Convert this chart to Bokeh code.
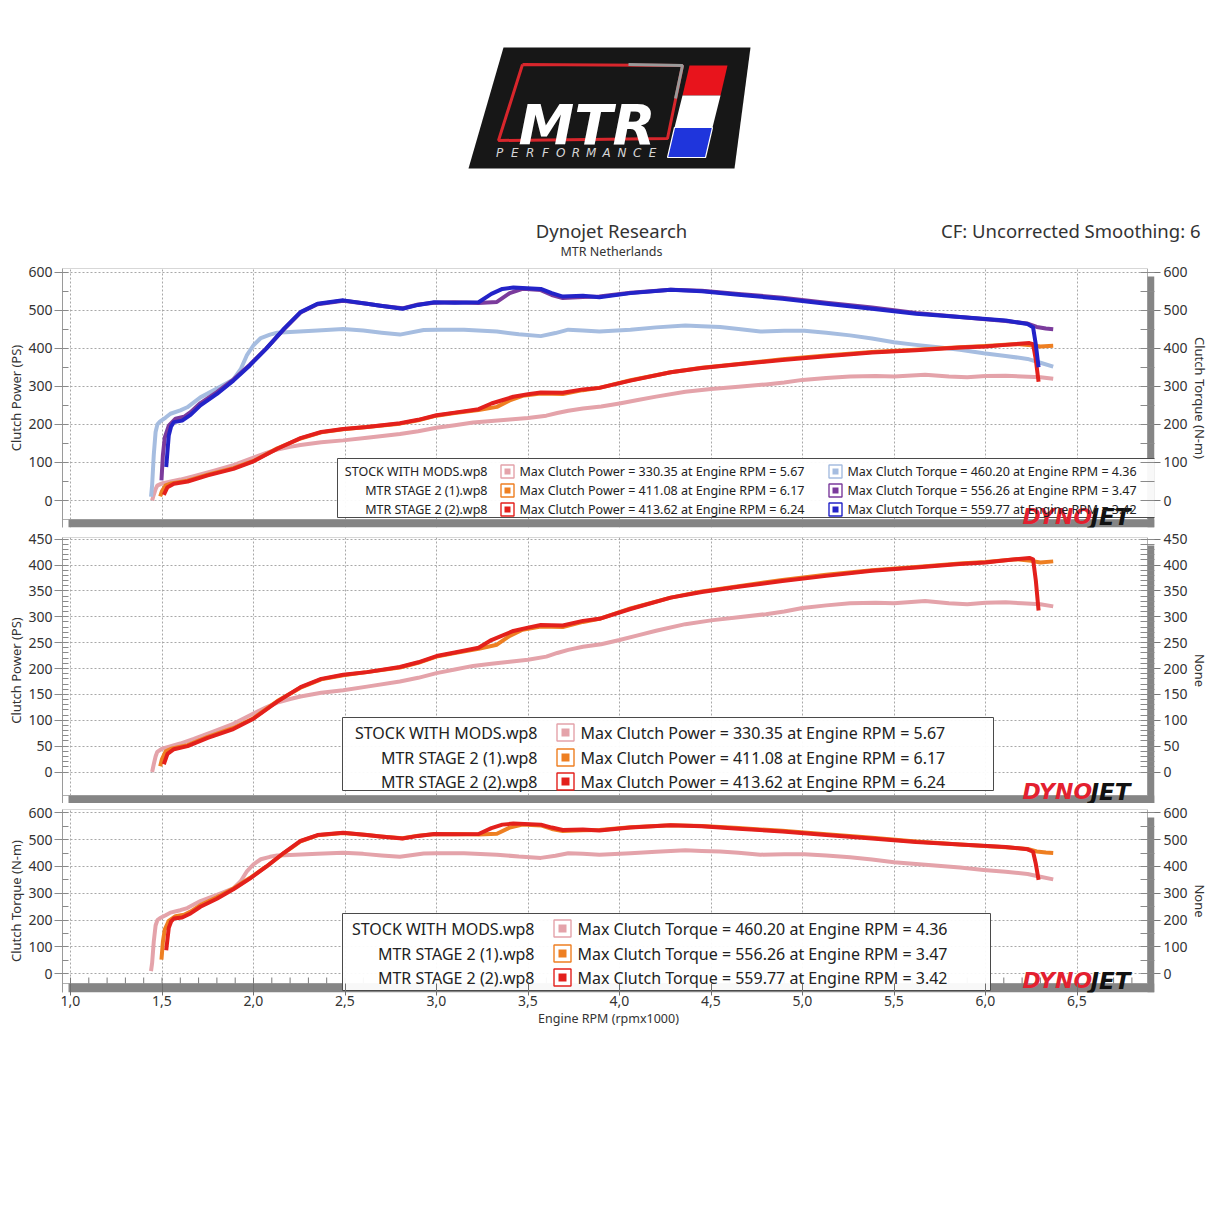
from bokeh.plotting import figure
from bokeh.layouts import column
from bokeh.models import Range1d, LinearAxis, FixedTicker, CustomJSTickFormatter, Grid
from bokeh.core.properties import value
from bokeh.embed import file_html
from bokeh.resources import INLINE

# ------------------------------------------------------------------ data
run_names = ["STOCK WITH MODS.wp8", "MTR STAGE 2 (1).wp8", "MTR STAGE 2 (2).wp8"]
max_power = ["330.35", "411.08", "413.62"]
max_power_rpm = ["5.67", "6.17", "6.24"]
max_torque = ["460.20", "556.26", "559.77"]
max_torque_rpm = ["4.36", "3.47", "3.42"]

x_ticks = [1.0, 1.5, 2.0, 2.5, 3.0, 3.5, 4.0, 4.5, 5.0, 5.5, 6.0, 6.5]

rpm_stock_power = [1.446, 1.455, 1.465, 1.474, 1.50, 1.53, 1.60, 1.674, 1.78, 1.89,
                   2.00, 2.07, 2.13, 2.20, 2.257, 2.37, 2.49, 2.62, 2.80, 2.90,
                   3.00, 3.10, 3.20, 3.30, 3.40, 3.50, 3.60, 3.66, 3.72, 3.80,
                   3.90, 4.00, 4.10, 4.20, 4.36, 4.50, 4.65, 4.80, 4.90, 5.00,
                   5.13, 5.26, 5.40, 5.50, 5.67, 5.80, 5.90, 6.00, 6.11, 6.20,
                   6.30, 6.37]
stock_power = [0, 15, 30, 39, 45, 48, 55, 64, 78, 93,
               113, 125, 134, 141, 146, 153, 158, 165, 175, 182,
               191, 198, 205, 209, 213, 217, 223, 230, 236, 242,
               247, 255, 264, 273, 285.7, 293, 299, 305, 310, 317,
               322, 326, 327, 326, 330.35, 326, 324, 327, 328, 326,
               324, 320]

rpm_mtr1_power = [1.49, 1.50, 1.52, 1.55, 1.64, 1.75, 1.89, 2.00, 2.13, 2.257,
                  2.37, 2.49, 2.62, 2.80, 2.90, 3.00, 3.10, 3.23, 3.33, 3.40,
                  3.47, 3.57, 3.69, 3.80, 3.89, 4.06, 4.28, 4.45, 4.65, 4.89,
                  5.13, 5.38, 5.62, 5.86, 6.00, 6.17, 6.25, 6.30, 6.37]
mtr1_power = [11, 25, 40, 45, 52, 68, 85, 104, 137, 163,
              179, 187, 193, 202, 211, 223, 230, 238, 246, 263,
              275, 281, 280, 290, 296, 316, 337, 349, 359, 371,
              381, 390, 396, 403, 406, 411.08, 408, 405, 407]

rpm_mtr2_power = [1.51, 1.53, 1.565, 1.64, 1.75, 1.89, 2.00, 2.13, 2.257, 2.37,
                  2.49, 2.62, 2.80, 2.90, 3.00, 3.10, 3.23, 3.30, 3.42, 3.50,
                  3.57, 3.69, 3.80, 3.89, 4.06, 4.28, 4.45, 4.65, 4.89, 5.13,
                  5.38, 5.62, 5.86, 6.00, 6.11, 6.24, 6.26, 6.275, 6.29]
mtr2_power = [15, 35, 44, 50, 66, 83, 103, 136, 164, 180,
              188, 193, 203, 212, 224, 231, 240, 255, 272.6, 279,
              284, 283, 292, 296, 315, 337, 348, 358, 369, 379,
              389, 395, 402, 405, 409, 413.62, 411, 370, 312]

rpm_stock_torque = [1.44, 1.446, 1.455, 1.465, 1.475, 1.49, 1.52, 1.546, 1.60, 1.638,
                    1.71, 1.80, 1.89, 1.93, 1.965, 2.00, 2.04, 2.09, 2.13, 2.20,
                    2.35, 2.49, 2.60, 2.70, 2.80, 2.93, 3.00, 3.15, 3.33, 3.45,
                    3.57, 3.65, 3.72, 3.80, 3.89, 4.06, 4.20, 4.36, 4.45, 4.55,
                    4.65, 4.77, 4.90, 5.01, 5.13, 5.26, 5.38, 5.50, 5.62, 5.74,
                    5.86, 5.99, 6.11, 6.23, 6.30, 6.37]
stock_torque = [10, 40, 120, 180, 200, 208, 218, 228, 237, 245,
                271, 294, 318, 345, 383, 408, 427, 436, 441, 443,
                447, 451, 447, 441, 436, 448, 449, 449, 444, 437,
                432, 440, 449, 447, 444, 449, 455, 460.2, 458, 456,
                451, 444, 446, 446, 441, 434, 426, 416, 409, 403,
                396, 387, 380, 372, 362, 352]

rpm_mtr1_torque = [1.497, 1.505, 1.515, 1.537, 1.574, 1.62, 1.656, 1.71, 1.80, 1.89,
                   1.98, 2.07, 2.166, 2.257, 2.35, 2.49, 2.62, 2.694, 2.814, 2.90,
                   2.987, 3.10, 3.23, 3.33, 3.40, 3.47, 3.57, 3.63, 3.69, 3.80,
                   3.89, 4.06, 4.28, 4.45, 4.65, 4.89, 5.13, 5.38, 5.62, 5.86,
                   6.11, 6.23, 6.28, 6.33, 6.37]
mtr1_torque = [53, 120, 165, 197, 215, 220, 232, 256, 285, 318,
               357, 400, 450, 494, 516, 525, 517, 512, 505, 515,
               520, 521, 519, 522, 545, 556.26, 553, 540, 532, 535,
               536, 546, 554, 551, 543, 533, 520, 507, 493, 482,
               472, 465, 456, 452, 450]

rpm_mtr2_torque = [1.523, 1.53, 1.537, 1.55, 1.565, 1.61, 1.656, 1.71, 1.80, 1.89,
                   1.98, 2.07, 2.166, 2.257, 2.35, 2.49, 2.62, 2.694, 2.814, 2.90,
                   2.987, 3.10, 3.23, 3.30, 3.36, 3.42, 3.57, 3.63, 3.69, 3.80,
                   3.89, 4.06, 4.28, 4.45, 4.65, 4.89, 5.13, 5.38, 5.62, 5.86,
                   6.11, 6.23, 6.26, 6.275, 6.29]
mtr2_torque = [88, 130, 171, 195, 206, 210, 225, 250, 280, 315,
               355, 399, 451, 495, 517, 526, 517, 512, 504, 514,
               521, 520, 521, 543, 556, 559.77, 556, 545, 536, 538,
               534, 545, 554, 550, 541, 530, 517, 504, 491, 482,
               473, 464, 455, 410, 350]

power_colors = ["#e4a3aa", "#ee7f22", "#e3201c"]
torque_colors_top = ["#a6bde0", "#7b3b9c", "#2323c8"]

FONT = "Noto Sans"
TXT = "#333333"

# ------------------------------------------------------------------ layout helpers (page pixels)
PAGE_W = 1221
FRAME_L, FRAME_R, BAR_R = 62, 1147, 1154


def rx(px):
    return 1.0 + (px - 70.0) / 183.0


PANELS = {
    "top": dict(zero=500.0, ppu=0.3805, top=268, bottom=519, bar=527, fig_top=262, fig_bottom=528),
    "mid": dict(zero=771.5, ppu=0.5175, top=537, bottom=795, bar=803, fig_top=528, fig_bottom=803),
    "bot": dict(zero=973.3, ppu=0.2683, top=809, bottom=983, bar=992, fig_top=803, fig_bottom=1050),
}


def vy(P, py):
    return (P["zero"] - py) / P["ppu"]


x_minor = [round(1.0 + 0.1 * i, 2) for i in range(0, 60)]
xt = FixedTicker(ticks=x_ticks, minor_ticks=x_minor)


def make_panel(P, ymax, ystep, yminor, left_label, right_label, x_axis):
    p = figure(width=PAGE_W, height=P["fig_bottom"] - P["fig_top"],
               x_range=Range1d(rx(FRAME_L), rx(BAR_R)),
               y_range=Range1d(vy(P, P["bar"]), vy(P, P["top"])),
               x_axis_type=None, y_axis_type=None,
               toolbar_location=None, output_backend="svg",
               min_border_left=FRAME_L, min_border_right=PAGE_W - BAR_R,
               min_border_top=P["top"] - P["fig_top"],
               min_border_bottom=P["fig_bottom"] - P["bar"],
               outline_line_color=None)
    yt = FixedTicker(ticks=list(range(0, ymax + 1, ystep)),
                     minor_ticks=list(range(0, ymax + 1, yminor)))
    p.add_layout(Grid(dimension=0, ticker=xt, grid_line_color="#a8a8a8",
                      grid_line_dash="2 2", grid_line_width=1))
    p.add_layout(Grid(dimension=1, ticker=yt, grid_line_color="#a8a8a8",
                      grid_line_dash="2 2", grid_line_width=1))
    la = LinearAxis(ticker=yt, axis_label=left_label,
                    axis_line_color="#9a9a9a",
                    major_tick_line_color="#8a8a8a", minor_tick_line_color="#8a8a8a",
                    major_tick_out=8, major_tick_in=0, minor_tick_out=0, minor_tick_in=6,
                    major_label_text_font=FONT, major_label_text_font_size="14px",
                    major_label_text_color=TXT, major_label_standoff=2,
                    axis_label_text_font=FONT, axis_label_text_font_size="13px",
                    axis_label_text_font_style="normal", axis_label_text_color=TXT,
                    axis_label_standoff=0)
    p.add_layout(la, "left")
    ra = LinearAxis(ticker=yt, axis_label=right_label,
                    axis_line_color=None,
                    major_tick_line_color="#777777", minor_tick_line_color="#8a8a8a",
                    major_tick_out=6, major_tick_in=7, minor_tick_out=0, minor_tick_in=14,
                    major_label_text_font=FONT, major_label_text_font_size="14px",
                    major_label_text_color=TXT, major_label_standoff=3,
                    axis_label_text_font=FONT, axis_label_text_font_size="13px",
                    axis_label_text_font_style="normal", axis_label_text_color=TXT,
                    axis_label_standoff=0)
    p.add_layout(ra, "right")
    # frame and drop-shadow bars
    p.quad(left=[rx(FRAME_L)], right=[rx(FRAME_R)], top=[vy(P, P["top"])],
           bottom=[vy(P, P["bottom"])], fill_color=None, line_color="#b0b0b0", line_width=1)
    if x_axis:
        ba = LinearAxis(ticker=xt, axis_label="Engine RPM (rpmx1000)",
                        formatter=CustomJSTickFormatter(code="return tick.toFixed(1).replace('.', ',');"),
                        axis_line_color=None,
                        major_tick_line_color="#6f6f6f", minor_tick_line_color=None,
                        major_tick_in=9, major_tick_out=3, minor_tick_in=0, minor_tick_out=0,
                        major_label_text_font=FONT, major_label_text_font_size="14px",
                        major_label_text_color=TXT, major_label_standoff=0,
                        axis_label_text_font=FONT, axis_label_text_font_size="12.5px",
                        axis_label_text_font_style="normal", axis_label_text_color=TXT,
                        axis_label_standoff=1)
        p.add_layout(ba, "below")
        # small tick marks poking up from the shadow bar (hidden under the legend box)
        p.segment(x0=x_minor, x1=x_minor, y0=[vy(P, P["bottom"])] * len(x_minor),
                  y1=[vy(P, P["bottom"] - 6)] * len(x_minor), line_color="#7a7a7a", line_width=1)
    p.quad(left=[rx(68)], right=[rx(BAR_R)], top=[vy(P, P["bottom"])],
           bottom=[vy(P, P["bar"])], fill_color="#858585", line_color=None)
    p.quad(left=[rx(FRAME_R)], right=[rx(BAR_R)], top=[vy(P, P["top"] + 8)],
           bottom=[vy(P, P["bar"])], fill_color="#858585", line_color=None)
    return p


def draw_logo(p, P, base_px):
    p.text(x=[rx(1022)], y=[vy(P, base_px)], text=["DYNO"], text_align="left",
           text_baseline="alphabetic", text_font=value("DejaVu Sans"),
           text_font_style="bold italic", text_font_size=value("22px"), text_color="#e3202f")
    p.text(x=[rx(1090)], y=[vy(P, base_px)], text=["JET"], text_align="left",
           text_baseline="alphabetic", text_font=value("DejaVu Sans"),
           text_font_style="bold italic", text_font_size=value("23px"), text_color="#111111")


def draw_legend(p, P, box, rows, name_right, columns, font_px, sq_out, sq_in, logo_base=None):
    l, t, r, b = box
    p.quad(left=[rx(l)], right=[rx(r)], top=[vy(P, t)], bottom=[vy(P, b)],
           fill_color="white", fill_alpha=0.94, line_color="#4a4a4a", line_width=1)
    if logo_base is not None:
        draw_logo(p, P, logo_base)
    ys = [vy(P, y) for y in rows]
    p.text(x=[rx(name_right)] * len(ys), y=ys, text=run_names, text_align="right",
           text_baseline="middle", text_font=value(FONT), text_font_size=value(font_px),
           text_color="#222222")
    for sq_x, txt_x, texts, colors in columns:
        p.scatter(x=[rx(sq_x)] * len(ys), y=ys, marker="square", size=sq_out,
                  fill_color="white", line_color=colors, line_width=1.4)
        p.scatter(x=[rx(sq_x)] * len(ys), y=ys, marker="square", size=sq_in,
                  fill_color=colors, line_color=None)
        p.text(x=[rx(txt_x)] * len(ys), y=ys, text=texts, text_align="left",
               text_baseline="middle", text_font=value(FONT), text_font_size=value(font_px),
               text_color="#222222")


power_texts = [f"Max Clutch Power = {v} at Engine RPM = {r}" for v, r in zip(max_power, max_power_rpm)]
torque_texts = [f"Max Clutch Torque = {v} at Engine RPM = {r}" for v, r in zip(max_torque, max_torque_rpm)]

LW = 4.0

# ------------------------------------------------------------------ header
h = figure(width=PAGE_W, height=262, x_range=Range1d(0, PAGE_W), y_range=Range1d(262, 0),
           x_axis_type=None, y_axis_type=None, toolbar_location=None,
           output_backend="svg", min_border=0, outline_line_color=None)
h.frame_align = False
h.patch([503, 750, 734, 468], [47, 47, 168, 168], fill_color="#171717", line_color=None)
h.line([522, 682, 667, 498, 522], [64, 65, 138, 140, 64], line_color="#d8262c", line_width=3)
h.line([628, 682, 675], [64, 65, 98], line_color="#9a9a9a", line_width=3)
h.text(x=[518], y=[124], text=["MTR"], text_align="left", text_baseline="alphabetic",
       text_font=value("DejaVu Sans"), text_font_style="bold italic",
       text_font_size=value("56px"), text_color="white")
h.text(x=[499 + i * 15.3 for i in range(11)], y=[152] * 11, text=list("PERFORMANCE"),
       text_align="center", text_baseline="middle", text_font=value("DejaVu Sans"),
       text_font_style="italic", text_font_size=value("12px"), text_color="#d6d6d6")
h.patch([689, 727, 720, 682], [65, 65, 95, 95], fill_color="#e8141c", line_color=None)
h.patch([682, 720, 712, 674], [95, 95, 127, 127], fill_color="#ffffff", line_color=None)
h.patch([674, 712, 705, 667], [127, 127, 157, 157], fill_color="#1f35dc", line_color="#ffffff",
        line_width=1.2)
h.text(x=[611], y=[230], text=["Dynojet Research"], text_align="center", text_baseline="middle",
       text_font=value(FONT), text_font_size=value("18.5px"), text_color=TXT)
h.text(x=[611], y=[251], text=["MTR Netherlands"], text_align="center", text_baseline="middle",
       text_font=value(FONT), text_font_size=value("12.5px"), text_color=TXT)
h.text(x=[1200], y=[230], text=["CF: Uncorrected Smoothing: 6"], text_align="right",
       text_baseline="middle", text_font=value(FONT), text_font_size=value("18.5px"),
       text_color=TXT)

# ------------------------------------------------------------------ top panel
PT = PANELS["top"]
pt = make_panel(PT, 600, 100, 50, "Clutch Power (PS)", "Clutch Torque (N-m)", False)
pt.line(rpm_stock_power, stock_power, line_color=power_colors[0], line_width=LW, line_join="round")
pt.line(rpm_stock_torque, stock_torque, line_color=torque_colors_top[0], line_width=LW, line_join="round")
pt.line(rpm_mtr1_power, mtr1_power, line_color=power_colors[1], line_width=LW, line_join="round")
pt.line(rpm_mtr1_torque, mtr1_torque, line_color=torque_colors_top[1], line_width=LW, line_join="round")
pt.line(rpm_mtr2_power, mtr2_power, line_color=power_colors[2], line_width=LW, line_join="round")
pt.line(rpm_mtr2_torque, mtr2_torque, line_color=torque_colors_top[2], line_width=LW, line_join="round")
draw_legend(pt, PT, (337, 458, 1156, 517), [471, 490, 509], 487,
            [(507, 519, power_texts, power_colors), (835, 847, torque_texts, torque_colors_top)],
            "12.5px", 13, 6, logo_base=516)

# ------------------------------------------------------------------ middle panel
PM = PANELS["mid"]
pm = make_panel(PM, 450, 50, 10, "Clutch Power (PS)", "None", False)
pm.line(rpm_stock_power, stock_power, line_color=power_colors[0], line_width=LW, line_join="round")
pm.line(rpm_mtr1_power, mtr1_power, line_color=power_colors[1], line_width=LW, line_join="round")
pm.line(rpm_mtr2_power, mtr2_power, line_color=power_colors[2], line_width=LW, line_join="round")
draw_logo(pm, PM, 791)
draw_legend(pm, PM, (342, 717, 993, 790), [732, 757, 781], 537,
            [(565, 580, power_texts, power_colors)], "16px", 17, 8)

# ------------------------------------------------------------------ bottom panel
PB = PANELS["bot"]
pb = make_panel(PB, 600, 100, 50, "Clutch Torque (N-m)", "None", True)
pb.line(rpm_stock_torque, stock_torque, line_color=power_colors[0], line_width=LW, line_join="round")
pb.line(rpm_mtr1_torque, mtr1_torque, line_color=power_colors[1], line_width=LW, line_join="round")
pb.line(rpm_mtr2_torque, mtr2_torque, line_color=power_colors[2], line_width=LW, line_join="round")
draw_logo(pb, PB, 980)
draw_legend(pb, PB, (342, 913, 990, 990), [928, 953, 977], 534,
            [(562, 577, torque_texts, power_colors)], "16px", 17, 8)

layout = column(h, pt, pm, pb, spacing=0)
open("out.html", "w").write(file_html(layout, INLINE))
